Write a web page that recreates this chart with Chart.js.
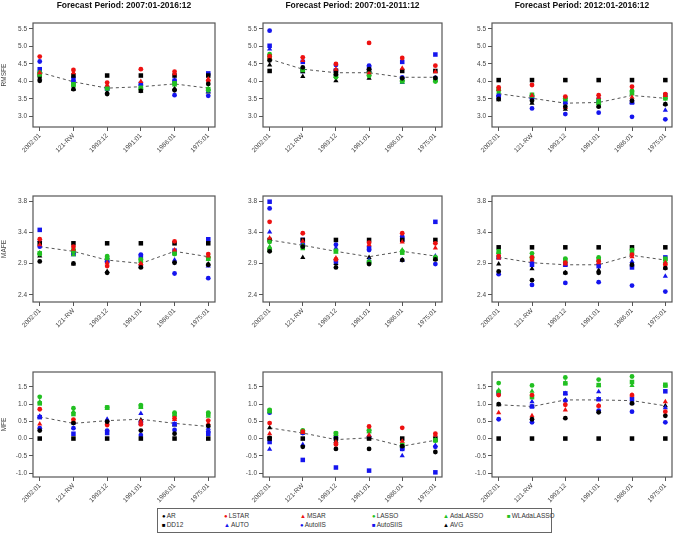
<!DOCTYPE html>
<html>
<head>
<meta charset="utf-8">
<script src="https://cdn.jsdelivr.net/npm/chart.js@4.4.0/dist/chart.umd.min.js"></script>
<style>
  body { margin:0; background:#fff; width:682px; height:533px; position:relative; overflow:hidden; font-family:"Liberation Sans", Arial, sans-serif; }
  canvas { position:absolute; }
  #legend { position:absolute; left:157px; top:508px; width:395px; height:25px; border:1px solid #666; box-sizing:border-box; }
  #legend span { position:absolute; font-size:6.5px; color:#333; white-space:nowrap; line-height:8px; }
  #legend b { font-weight:normal; font-size:6px; margin-right:1px; }
</style>
</head>
<body>
<div id="legend"></div>
<script>
// categories (x) and series
const categories = ['2002:01', '121-RW', '1993:12', '1991:01', '1986:01', '1975:01'];
const seriesNames = ['AR', 'LSTAR', 'MSAR', 'LASSO', 'AdaLASSO', 'WLAdaLASSO', 'DD12', 'AUTO', 'AutoIIS', 'AutoSIIS', 'AVG'];
const periods = ['2007:01-2016:12', '2007:01-2011:12', '2012:01-2016:12'];
const measures = ['RMSFE', 'MAFE', 'MFE'];

// y tick values / labels per row
const rmsfeTicks = [3.0, 3.5, 4.0, 4.5, 5.0, 5.5];
const rmsfeTickLabels = ['3.0', '3.5', '4.0', '4.5', '5.0', '5.5'];
const mafeTicks = [2.4, 2.8667, 3.3333, 3.8];
const mafeTickLabels = ['2.4', '2.9', '3.4', '3.8'];
const mfeTicks = [-1.0, -0.5, 0.0, 0.5, 1.0, 1.5];
const mfeTickLabels = ['-1.0', '-0.5', '0.0', '0.5', '1.0', '1.5'];

// rows follow seriesNames order
const rmsfe0716 = [
  [4.02, 3.78, 3.64, 3.73, 3.75, 3.93],
  [4.71, 4.33, 3.97, 4.35, 4.28, 4.02],
  [4.25, 4.25, 3.90, 4.00, 4.22, 4.07],
  [4.26, 3.90, 3.82, 3.78, 3.93, 3.75],
  [4.22, 3.88, 3.80, 3.80, 3.90, 3.80],
  [4.20, 3.92, 3.80, 3.82, 3.95, 3.78],
  [4.17, 4.17, 4.17, 4.17, 4.17, 4.17],
  [4.30, 4.05, 3.78, 3.85, 4.05, 3.72],
  [4.57, 4.10, 3.80, 3.90, 3.61, 3.59],
  [4.35, 4.00, 3.81, 3.93, 4.02, 4.23],
  [4.10, 3.78, 3.70, 3.72, 3.80, 3.70]
];
const rmsfe0716Trend = [4.26, 3.99, 3.81, 3.85, 3.93, 3.81];

const rmsfe0711 = [
  [4.60, 4.40, 4.20, 4.35, 4.09, 4.10],
  [4.72, 4.69, 4.50, 5.10, 4.67, 4.45],
  [4.68, 4.60, 4.35, 4.25, 4.38, 4.28],
  [4.78, 4.35, 4.12, 4.16, 4.02, 4.00],
  [4.64, 4.38, 4.15, 4.20, 4.05, 4.02],
  [4.70, 4.33, 4.18, 4.22, 4.00, 4.05],
  [4.30, 4.30, 4.30, 4.30, 4.30, 4.30],
  [4.93, 4.28, 4.21, 4.31, 3.97, 4.10],
  [5.45, 4.35, 4.47, 4.45, 4.12, 4.10],
  [5.02, 4.56, 4.31, 4.40, 4.56, 4.77],
  [4.47, 4.14, 4.02, 4.09, 4.05, 4.04]
];
const rmsfe0711Trend = [4.64, 4.35, 4.25, 4.25, 4.12, 4.12];

const rmsfe1216 = [
  [3.50, 3.45, 3.28, 3.28, 3.45, 3.35],
  [3.83, 3.90, 3.57, 3.61, 3.85, 3.64],
  [3.78, 3.60, 3.26, 3.55, 3.55, 3.60],
  [3.75, 3.61, 3.52, 3.35, 3.73, 3.52],
  [3.70, 3.58, 3.48, 3.40, 3.64, 3.50],
  [3.78, 3.62, 3.50, 3.45, 3.68, 3.55],
  [4.04, 4.04, 4.04, 4.04, 4.04, 4.04],
  [3.60, 3.55, 3.40, 3.45, 3.40, 3.18],
  [3.61, 3.23, 3.07, 3.11, 2.99, 2.92],
  [3.54, 3.54, 3.40, 3.48, 3.40, 3.61],
  [3.48, 3.38, 3.21, 3.30, 3.42, 3.35]
];
const rmsfe1216Trend = [3.65, 3.52, 3.38, 3.40, 3.60, 3.52];

const mafe0716 = [
  [2.90, 2.87, 2.73, 2.81, 2.88, 2.85],
  [3.23, 3.12, 2.83, 2.85, 3.20, 3.01],
  [3.15, 3.08, 2.88, 2.87, 3.07, 2.98],
  [3.01, 3.08, 2.98, 2.93, 3.01, 2.96],
  [3.03, 3.00, 2.96, 2.90, 3.03, 2.93],
  [3.02, 3.05, 2.95, 2.92, 3.02, 2.95],
  [3.17, 3.17, 3.17, 3.17, 3.17, 3.17],
  [3.21, 3.00, 2.90, 2.85, 2.92, 2.83],
  [3.12, 3.02, 2.90, 3.00, 2.72, 2.65],
  [3.37, 3.02, 2.92, 2.98, 3.06, 3.23],
  [2.98, 2.86, 2.75, 2.82, 2.90, 2.86]
];
const mafe0716Trend = [3.12, 3.05, 2.92, 2.87, 3.05, 2.97];

const mafe0711 = [
  [3.05, 3.12, 2.81, 2.86, 2.92, 2.93],
  [3.49, 3.32, 2.93, 3.18, 3.32, 3.17],
  [3.25, 3.20, 2.95, 3.15, 3.19, 3.10],
  [3.19, 3.12, 3.06, 2.88, 3.05, 2.96],
  [3.12, 3.14, 3.04, 2.90, 3.07, 2.97],
  [3.07, 3.10, 3.05, 2.89, 3.03, 2.95],
  [3.22, 3.22, 3.22, 3.22, 3.22, 3.22],
  [3.34, 3.18, 3.10, 2.92, 2.92, 2.98],
  [3.69, 3.15, 3.15, 3.07, 3.27, 2.86],
  [3.79, 3.22, 2.90, 3.10, 3.23, 3.49],
  [3.10, 2.96, 2.87, 2.96, 2.92, 2.93]
];
const mafe0711Trend = [3.22, 3.14, 3.05, 2.97, 3.05, 2.98];

const mafe1216 = [
  [2.75, 2.62, 2.73, 2.73, 2.85, 2.80],
  [2.98, 2.96, 2.88, 2.90, 3.00, 2.85],
  [2.95, 2.92, 2.86, 2.88, 2.97, 2.88],
  [3.02, 3.02, 2.94, 2.96, 3.07, 2.92],
  [2.98, 2.98, 2.90, 2.92, 3.03, 2.90],
  [3.05, 2.95, 2.92, 2.93, 3.05, 2.94],
  [3.11, 3.11, 3.11, 3.11, 3.11, 3.11],
  [2.96, 2.90, 2.85, 2.87, 2.90, 2.68],
  [2.71, 2.55, 2.58, 2.59, 2.54, 2.45],
  [2.96, 2.85, 2.85, 2.83, 2.81, 2.96],
  [2.86, 2.79, 2.73, 2.77, 2.85, 2.80]
];
const mafe1216Trend = [2.96, 2.88, 2.85, 2.85, 2.99, 2.92];

const mfe0716 = [
  [0.23, 0.45, 0.49, 0.23, 0.14, 0.37],
  [0.85, 0.55, 0.39, 0.41, 0.59, 0.52],
  [0.42, 0.50, 0.45, 0.50, 0.55, 0.44],
  [1.21, 0.88, 0.90, 0.97, 0.75, 0.75],
  [1.07, 0.78, 0.88, 0.90, 0.68, 0.65],
  [1.02, 0.71, 0.90, 0.93, 0.70, 0.70],
  [0.00, 0.00, 0.00, 0.00, 0.00, 0.00],
  [0.65, 0.45, 0.56, 0.73, 0.42, 0.30],
  [0.30, 0.30, 0.23, 0.10, 0.25, 0.20],
  [0.62, 0.14, 0.16, 0.45, 0.42, 0.14],
  [0.63, 0.49, 0.52, 0.54, 0.39, 0.37]
];
const mfe0716Trend = [0.63, 0.44, 0.52, 0.56, 0.44, 0.35];

const mfe0711 = [
  [0.02, -0.24, -0.30, -0.30, -0.22, -0.39],
  [0.45, 0.20, -0.17, 0.35, 0.31, 0.14],
  [0.14, 0.18, -0.10, 0.10, -0.08, 0.10],
  [0.83, 0.24, 0.16, 0.24, -0.20, -0.06],
  [0.78, 0.22, 0.12, 0.20, -0.22, -0.04],
  [0.80, 0.20, 0.14, 0.22, -0.18, -0.05],
  [0.00, 0.00, 0.00, 0.00, 0.00, 0.00],
  [-0.31, -0.17, 0.02, 0.08, -0.50, -0.20],
  [0.75, 0.16, 0.02, 0.05, -0.30, -0.24],
  [-0.10, -0.62, -0.84, -0.93, -0.30, -0.98],
  [0.31, 0.16, -0.08, 0.02, -0.22, -0.05]
];
const mfe0711Trend = [0.31, 0.16, -0.03, 0.02, -0.22, -0.05];

const mfe1216 = [
  [1.00, 0.56, 0.59, 0.76, 1.02, 0.66],
  [1.26, 1.26, 0.98, 0.95, 1.26, 0.78],
  [0.75, 0.66, 0.83, 0.95, 1.26, 1.07],
  [1.61, 1.54, 1.77, 1.71, 1.80, 1.54],
  [1.40, 1.37, 1.62, 1.54, 1.54, 1.52],
  [1.35, 1.20, 1.60, 1.55, 1.64, 1.56],
  [0.00, 0.00, 0.00, 0.00, 0.00, 0.00],
  [1.36, 1.07, 1.31, 1.36, 1.02, 0.89],
  [0.56, 0.47, 1.10, 0.81, 0.78, 0.47],
  [1.31, 0.93, 1.31, 1.14, 1.14, 1.37],
  [0.98, 0.93, 1.12, 1.14, 1.07, 0.95]
];
const mfe1216Trend = [0.98, 0.93, 1.12, 1.12, 1.10, 0.95];

// ---- styling / layout ----
const RED = '#ee1111', GREEN = '#22c022', BLUE = '#1515ee', BLACK = '#000000';
const colors = [BLACK, RED, RED, GREEN, GREEN, GREEN, BLACK, BLUE, BLUE, BLUE, BLACK];
const shapes = ['circle', 'circle', 'triangle', 'circle', 'triangle', 'rect', 'rect', 'triangle', 'circle', 'rect', 'triangle'];
const radius = { circle: 2.4, triangle: 3.0, rect: 3.2 };
const glyph = { circle: '\u25CF', triangle: '\u25B2', rect: '\u25A0' };
const FONT = '"Liberation Sans", Arial, sans-serif';

const canvasLeft = [0, 225, 455], canvasWidth = [225, 230, 227];
const boxLeft = [33, 263, 492], boxRight = [215, 442, 672];
const canvasTop = [0, 180, 355], canvasHeight = [180, 175, 150];
const boxTop = [22, 196, 372], boxBottom = [127, 302, 477];
const yRange = [[2.7, 5.67], [2.295, 3.875], [-1.115, 1.93]];
const rowTicks = [rmsfeTicks, mafeTicks, mfeTicks];
const rowTickLabels = [rmsfeTickLabels, mafeTickLabels, mfeTickLabels];
const panels = [
  [rmsfe0716, rmsfe0711, rmsfe1216],
  [mafe0716, mafe0711, mafe1216],
  [mfe0716, mfe0711, mfe1216]
];
const trends = [
  [rmsfe0716Trend, rmsfe0711Trend, rmsfe1216Trend],
  [mafe0716Trend, mafe0711Trend, mafe1216Trend],
  [mfe0716Trend, mfe0711Trend, mfe1216Trend]
];

const boxPlugin = {
  id: 'box',
  afterDraw(chart) {
    const a = chart.chartArea, ctx = chart.ctx;
    ctx.save();
    ctx.strokeStyle = '#555';
    ctx.lineWidth = 1.2;
    ctx.strokeRect(a.left, a.top, a.right - a.left, a.bottom - a.top);
    ctx.restore();
  }
};

function makePanel(row, col) {
  const cv = document.createElement('canvas');
  const W = canvasWidth[col], H = canvasHeight[row];
  cv.width = W; cv.height = H;
  cv.style.left = canvasLeft[col] + 'px';
  cv.style.top = canvasTop[row] + 'px';
  document.body.appendChild(cv);

  const yW = boxLeft[col] - canvasLeft[col];
  const padR = canvasLeft[col] + W - boxRight[col];
  const padT = boxTop[row] - canvasTop[row];
  const xH = canvasTop[row] + H - boxBottom[row];
  const values = panels[row][col];
  const ticks = rowTicks[row], tickLabels = rowTickLabels[row];

  const datasets = seriesNames.map((name, i) => ({
    label: name,
    data: values[i].map((v, j) => ({ x: j + 1, y: v })),
    pointStyle: shapes[i],
    pointRadius: radius[shapes[i]],
    backgroundColor: colors[i],
    borderColor: colors[i],
    borderWidth: 0,
    showLine: false
  }));
  datasets.push({
    label: 'trend',
    data: trends[row][col].map((v, j) => ({ x: j + 1, y: v })),
    showLine: true,
    borderColor: '#555',
    borderWidth: 1,
    borderDash: [3, 3],
    pointRadius: 0,
    order: 100
  });

  new Chart(cv, {
    type: 'scatter',
    data: { datasets },
    options: {
      responsive: false,
      animation: false,
      events: [],
      layout: { padding: { left: 0, right: padR, top: row === 0 ? 0 : padT, bottom: 0 } },
      plugins: {
        legend: { display: false },
        tooltip: { enabled: false },
        title: {
          display: row === 0,
          text: 'Forecast Period: ' + periods[col],
          fullSize: false,
          color: '#111',
          font: { family: FONT, size: 8.5, weight: 'bold' },
          padding: { top: 1, bottom: padT - 10.2 }
        }
      },
      scales: {
        x: {
          type: 'linear', min: 0.8, max: 6.2,
          afterBuildTicks: s => { s.ticks = categories.map((c, i) => ({ value: i + 1 })); },
          afterFit: s => { s.height = xH; },
          ticks: {
            autoSkip: false, minRotation: 45, maxRotation: 45, padding: 1,
            color: '#444', font: { family: FONT, size: 6.5 },
            callback: v => categories[Math.round(v) - 1]
          },
          grid: { drawOnChartArea: false, tickLength: 4, color: '#555' },
          border: { display: false }
        },
        y: {
          min: yRange[row][0], max: yRange[row][1],
          afterBuildTicks: s => { s.ticks = ticks.map(v => ({ value: v })); },
          afterFit: s => { s.width = yW; },
          ticks: {
            autoSkip: false, padding: 2, color: '#444',
            font: { family: FONT, size: 6.5 },
            callback: (v, i) => tickLabels[i]
          },
          grid: { drawOnChartArea: false, tickLength: 4, color: '#555' },
          border: { display: false },
          title: {
            display: col === 0, text: measures[row], color: '#444', padding: 0,
            font: { family: FONT, size: 6.5 }
          }
        }
      }
    },
    plugins: [boxPlugin]
  });
}

for (let r = 0; r < 3; r++) for (let c = 0; c < 3; c++) makePanel(r, c);

// legend, 6 entries per row in series order
const legendX = [4, 66, 142, 214, 285, 349];
const legendY = [3, 12];
const lg = document.getElementById('legend');
seriesNames.forEach((name, i) => {
  const s = document.createElement('span');
  s.style.left = legendX[i % 6] + 'px';
  s.style.top = legendY[Math.floor(i / 6)] + 'px';
  s.innerHTML = '<b style="color:' + colors[i] + '">' + glyph[shapes[i]] + '</b>' + name;
  lg.appendChild(s);
});
</script>
</body>
</html>
